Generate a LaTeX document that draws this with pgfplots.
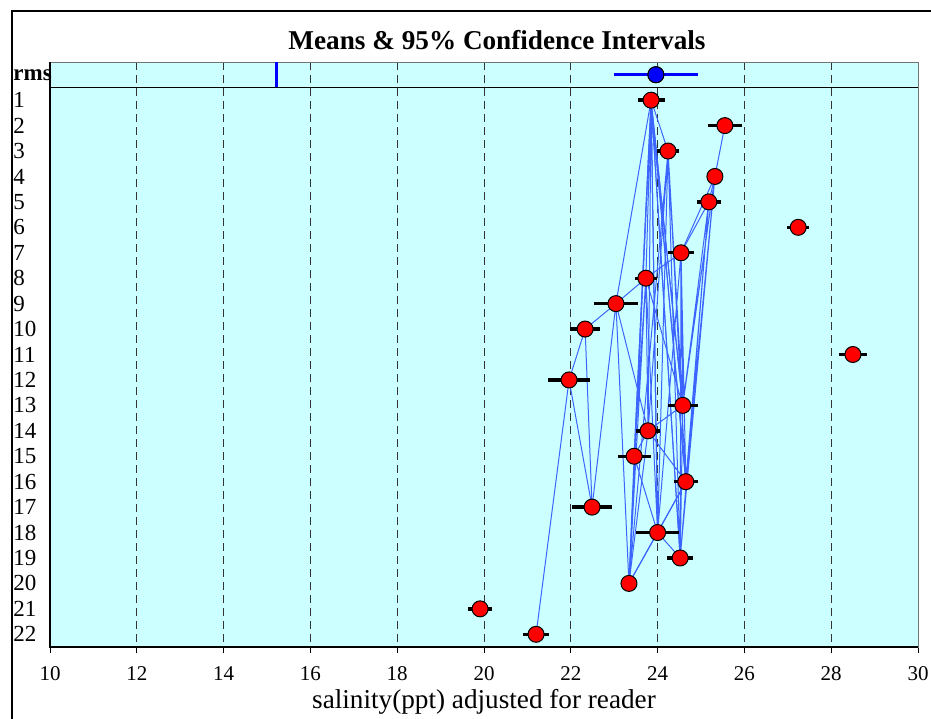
\documentclass[border=0pt]{standalone}
\usepackage{fontspec}
\setmainfont{Liberation Serif}
\usepackage{pgfplots}
\usepackage{pgfplotstable}
\pgfplotsset{compat=1.18}
\definecolor{bgcyan}{RGB}{204,255,255}
\definecolor{netblue}{RGB}{60,100,255}

% reader means and half-widths of the 95% CI
\pgfplotstableread{
x     row err
23.85 1  0.31
25.55 2  0.40
24.24 3  0.25
25.32 4  0.12
25.18 5  0.27
27.24 6  0.25
24.54 7  0.30
23.73 8  0.26
23.04 9  0.50
22.33 10 0.35
28.50 11 0.33
21.96 12 0.48
24.58 13 0.35
23.78 14 0.28
23.46 15 0.38
24.65 16 0.28
22.49 17 0.46
24.00 18 0.50
24.52 19 0.30
23.34 20 0.10
19.91 21 0.28
21.20 22 0.30
}\means

\begin{document}
\begin{tikzpicture}[x=0.5pt,y=0.5pt]
\useasboundingbox (0,0) rectangle (931,718);
\draw[line width=1pt] (12,-20) -- (12,707) -- (960,707);
\begin{axis}[
  at={(25pt,35.5pt)}, anchor=south west,
  scale only axis, width=434pt, height=292.5pt,
  xmin=10, xmax=30, ymin=-0.5, ymax=22.5, y dir=reverse,
  xtick={10,12,...,30},
  ytick={0,1,...,22},
  yticklabels={\textbf{rms},1,2,3,4,5,6,7,8,9,10,11,12,13,14,15,16,17,18,19,20,21,22},
  /pgf/number format/assume math mode=true,
  axis background/.style={fill=bgcyan},
  axis line style={black!55, line width=0.5pt},
  xmajorgrids,
  grid style={black!80, dash pattern=on 4pt off 2.5pt, line width=0.5pt},
  tick align=outside, xtick pos=bottom,
  major tick length=3pt,
  xtick style={black, line width=0.5pt},
  ytick style={draw=none},
  xticklabel style={font=\fontsize{10.5}{10.5}\selectfont, yshift=-6.5pt, inner sep=0pt},
  yticklabel style={font=\fontsize{11.5}{11.5}\selectfont, anchor=west, inner sep=0pt, xshift=-15.5pt},
  clip=false,
]
% connecting lines between readers
\addplot[netblue, line width=0.5pt, mark=none] coordinates {
(25.55,2) (25.32,4) (25.18,5) (24.54,7) (23.73,8) (23.04,9) (22.33,10) (21.96,12) (21.20,22)
};
\addplot[netblue, line width=0.5pt, mark=none] coordinates {
(25.32,4) (24.54,7)
};
\addplot[netblue, line width=0.5pt, mark=none] coordinates {
(22.33,10) (22.49,17) (21.96,12)
};
\addplot[netblue, line width=0.5pt, mark=none] coordinates {
(23.85,1) (24.24,3) (23.78,14) (24.58,13) (24.24,3) (24.00,18) (24.65,16) (25.32,4)
(24.52,19) (23.85,1) (23.34,20) (24.00,18) (24.52,19) (25.18,5) (24.58,13) (23.85,1)
(23.46,15) (24.00,18) (24.24,3) (24.65,16) (23.85,1) (23.73,8) (23.34,20) (24.24,3)
(24.52,19) (24.54,7) (24.58,13) (25.32,4) (24.65,16) (25.18,5) (24.52,19) (24.24,3)
(23.78,14) (23.85,1) (24.00,18) (24.54,7) (24.65,16) (23.78,14) (23.73,8) (23.46,15)
(23.34,20) (23.04,9) (23.78,14) (23.85,1) (23.04,9) (22.49,17)
};
\addplot[netblue, line width=0.5pt, mark=none] coordinates {
(23.85,1) (23.46,15) (23.78,14) (23.34,20) (23.85,1) (24.52,19) (24.58,13) (23.73,8) (24.00,18)
(23.85,1) (23.34,20) (24.65,16) (23.85,1) (24.58,13)
};
% separator and rms row
\addplot[black, line width=0.5pt, mark=none] coordinates {(10,0.5) (30,0.5)};
\addplot[blue, line width=1.5pt, mark=none] coordinates {(15.23,-0.5) (15.23,0.5)};
\addplot[only marks, mark=*, mark size=4pt,
  mark options={fill=blue, draw=black, line width=0.5pt},
  error bars/.cd, x dir=both, x explicit, error mark=none,
  error bar style={blue, line width=1.5pt}]
  coordinates {(23.96,0) +- (0.97,0)};
\addplot[only marks, mark=*, mark size=4pt,
  mark options={fill=blue, draw=black, line width=0.5pt}]
  coordinates {(23.96,0)};
% error bars then means
\addplot[only marks, mark=none,
  error bars/.cd, x dir=both, x explicit, error mark=none,
  error bar style={black, line width=1.7pt}]
  table[x=x, y=row, x error=err] {\means};
\addplot[only marks, mark=*, mark size=4pt,
  mark options={fill=red, draw=black, line width=0.5pt}]
  table[x=x, y=row] {\means};
% left and bottom frame lines
\draw[black, line width=0.6pt] (axis cs:10,-0.5) -- (axis cs:10,22.5) -- (axis cs:30,22.5);
\end{axis}
\node[font=\bfseries\fontsize{13.6}{14}\selectfont] at (497,678) {Means \& 95\% Confidence Intervals};
\node[font=\fontsize{13.6}{14}\selectfont, inner sep=0pt] at (484,16) {salinity(ppt) adjusted for reader};
\end{tikzpicture}
\end{document}
